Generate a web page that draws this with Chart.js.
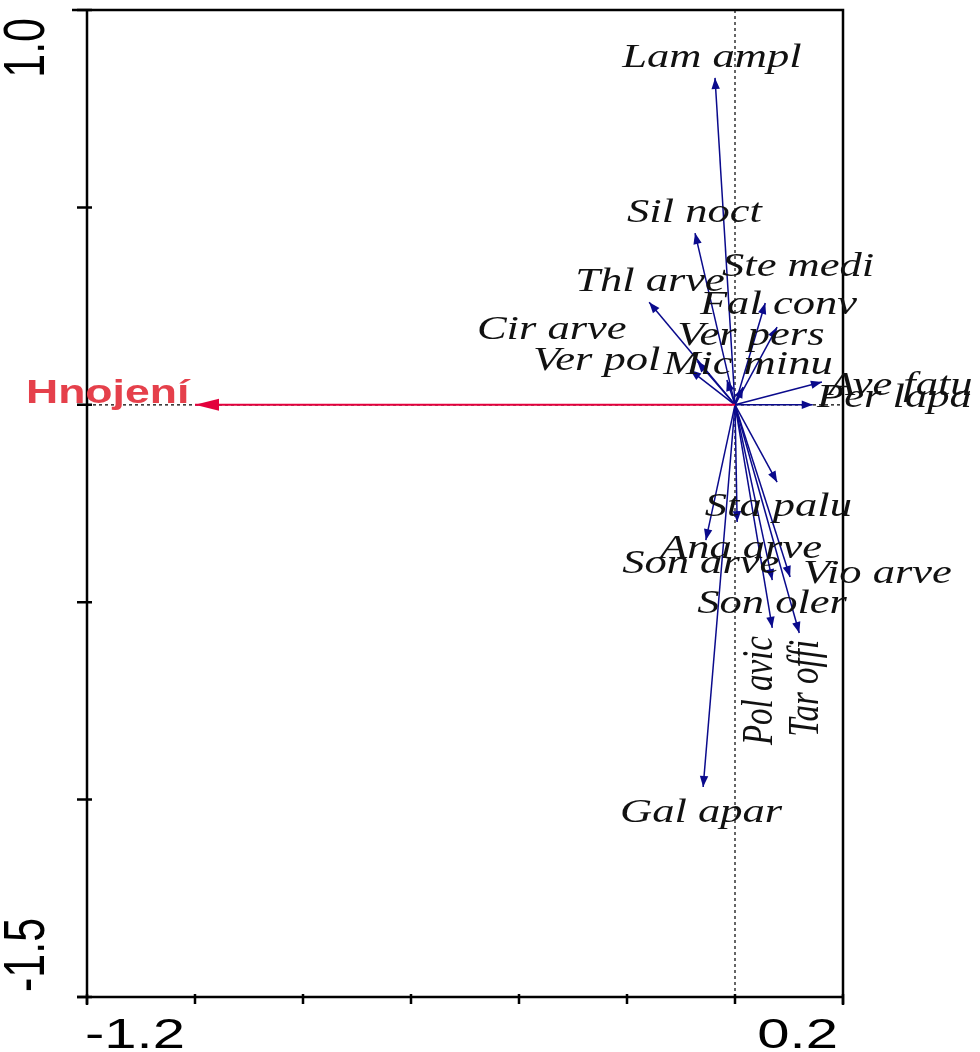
<!DOCTYPE html>
<html><head><meta charset="utf-8">
<script src="https://cdn.jsdelivr.net/npm/chart.js@4"></script>
<style>html,body{margin:0;padding:0;background:#fff}#wrap{width:980px;height:1052px;position:relative}</style>
</head><body><div id="wrap"><canvas id="c"></canvas></div>
<script>
// ---- data ----
const species  = ["Lam ampl","Sil noct","Ste medi","Thl arve","Fal conv","Cir arve","Ver pers","Ver pol","Mic minu","Ave fatu","Per lapa","Sta palu","Ana arve","Son arve","Vio arve","Son oler","Pol avic","Tar offi","Gal apar"];
const speciesX = [-0.037,-0.074, 0.056,-0.159, 0.078,-0.083, 0.015,-0.070,-0.015, 0.161, 0.144, 0.078, 0.004,-0.054, 0.102, 0.069, 0.069, 0.119,-0.059];
const speciesY = [ 0.828, 0.435, 0.258, 0.260, 0.197, 0.088, 0.045, 0.110, 0.063, 0.058, 0.000,-0.196,-0.297,-0.343,-0.436,-0.444,-0.565,-0.578,-0.968];
// label anchor (left end of text, baseline) in axis units
const labelX   = [-0.209,-0.200,-0.024,-0.296,-0.065,-0.478,-0.107,-0.374,-0.133, 0.172, 0.152,-0.056,-0.139,-0.209, 0.126,-0.070, 0.069, 0.154,-0.213];
const labelY   = [ 0.856, 0.462, 0.326, 0.288, 0.229, 0.166, 0.152, 0.088, 0.078, 0.025,-0.006,-0.282,-0.388,-0.426,-0.451,-0.527,-0.862,-0.841,-1.057];
const labelVertical = [0,0,0,0,0,0,0,0,0,0,0,0,0,0,0,0,1,1,0];
const envNames = ["Hnojení"];
const envX = [-1.0];
const envY = [0.0];
const envLabelX = [-1.313];
const envLabelY = [0.005];
const xTickValues = [-1.2,-1.0,-0.8,-0.6,-0.4,-0.2,0.0,0.2];
const xTickLabels = ["-1.2","","","","","","","0.2"];
const yTickValues = [1.0,0.5,0.0,-0.5,-1.0,-1.5];
const yTickLabels = ["1.0","","","","","-1.5"];

const BLUE = "#0a0a8c";
const RED = "#e3003c";
const SX = 1.35; // horizontal stretch of text in the reference

const datasets = [];
envNames.forEach((n,i)=>datasets.push({label:n,data:[{x:0,y:0},{x:envX[i],y:envY[i]}],showLine:true,borderColor:RED,borderWidth:2,pointRadius:0,clip:false}));
species.forEach((n,i)=>datasets.push({label:n,data:[{x:0,y:0},{x:speciesX[i],y:speciesY[i]}],showLine:true,borderColor:BLUE,borderWidth:1.5,pointRadius:0,clip:false}));

function txt(ctx,t,px,py,font,color,align,vert){
  ctx.save();ctx.translate(px,py);ctx.scale(SX,1);if(vert)ctx.rotate(-Math.PI/2);
  ctx.font=font;ctx.fillStyle=color;ctx.textAlign=align;ctx.textBaseline="alphabetic";ctx.fillText(t,0,0);ctx.restore();
}
function head(ctx,x0,y0,x1,y1,len,hw,color){
  const a=Math.atan2(y1-y0,x1-x0);
  ctx.save();ctx.fillStyle=color;ctx.beginPath();
  ctx.moveTo(x1,y1);
  ctx.lineTo(x1-len*Math.cos(a)+hw*Math.sin(a),y1-len*Math.sin(a)-hw*Math.cos(a));
  ctx.lineTo(x1-len*Math.cos(a)-hw*Math.sin(a),y1-len*Math.sin(a)+hw*Math.cos(a));
  ctx.closePath();ctx.fill();ctx.restore();
}
const biplot={
  id:"biplot",
  beforeDatasetsDraw(chart){
    const {ctx,chartArea:a,scales:{x,y}}=chart;
    ctx.save();ctx.strokeStyle="#000";ctx.lineWidth=1.2;ctx.setLineDash([3,3]);
    const x0=x.getPixelForValue(0),y0=y.getPixelForValue(0);
    ctx.beginPath();ctx.moveTo(x0,a.top);ctx.lineTo(x0,a.bottom);ctx.moveTo(a.left,y0);ctx.lineTo(a.right,y0);ctx.stroke();
    ctx.restore();
  },
  afterDatasetsDraw(chart){
    const {ctx,chartArea:a,scales:{x,y}}=chart;
    const x0=x.getPixelForValue(0),y0=y.getPixelForValue(0);
    // frame
    ctx.save();ctx.strokeStyle="#000";ctx.lineWidth=2.5;ctx.setLineDash([]);
    ctx.beginPath();
    ctx.moveTo(a.left-15,a.top);ctx.lineTo(a.right,a.top);ctx.lineTo(a.right,a.bottom+8);
    ctx.moveTo(a.left,a.top);ctx.lineTo(a.left,a.bottom+8);
    ctx.moveTo(a.left-10,a.bottom);ctx.lineTo(a.right,a.bottom);
    ctx.stroke();
    ctx.lineWidth=2.5;ctx.beginPath();
    xTickValues.forEach(v=>{const px=x.getPixelForValue(v);ctx.moveTo(px,a.bottom-3);ctx.lineTo(px,a.bottom+7);});
    yTickValues.forEach(v=>{const py=y.getPixelForValue(v);ctx.moveTo(a.left-10,py);ctx.lineTo(a.left+5,py);});
    ctx.stroke();ctx.restore();
    // tick labels
    const nf='43px "Liberation Sans", Arial, sans-serif';
    xTickValues.forEach((v,i)=>{const t=xTickLabels[i];if(!t)return;const px=x.getPixelForValue(v);
      txt(ctx,t,i===0?px-2:px-5,1048,nf,"#000",i===0?"left":"right",false);});
    yTickValues.forEach((v,i)=>{const t=yTickLabels[i];if(!t)return;const py=y.getPixelForValue(v);
      txt(ctx,t,44,i===0?py+8:py-5,nf,"#000",i===0?"right":"left",true);});
    // arrowheads
    species.forEach((n,i)=>head(ctx,x0,y0,x.getPixelForValue(speciesX[i]),y.getPixelForValue(speciesY[i]),11,4.2,BLUE));
    envNames.forEach((n,i)=>head(ctx,x0,y0,x.getPixelForValue(envX[i]),y.getPixelForValue(envY[i]),24,6,RED));
    // labels
    const sf='italic 33px "Liberation Serif", "Times New Roman", serif';
    species.forEach((n,i)=>txt(ctx,n,x.getPixelForValue(labelX[i]),y.getPixelForValue(labelY[i]),sf,"#111","left",labelVertical[i]));
    envNames.forEach((n,i)=>txt(ctx,n,x.getPixelForValue(envLabelX[i]),y.getPixelForValue(envLabelY[i]),'bold 33px "Liberation Sans", Arial, sans-serif',"#e5404b","left",false));
  }
};
new Chart(document.getElementById("c"),{
  type:"scatter",
  data:{datasets},
  options:{
    responsive:true,maintainAspectRatio:false,animation:false,
    layout:{padding:{left:87,right:137,top:10,bottom:55}},
    plugins:{legend:{display:false},tooltip:{enabled:false}},
    scales:{
      x:{type:"linear",min:-1.2,max:0.2,display:false},
      y:{type:"linear",min:-1.5,max:1.0,display:false}
    }
  },
  plugins:[biplot]
});
</script></body></html>
